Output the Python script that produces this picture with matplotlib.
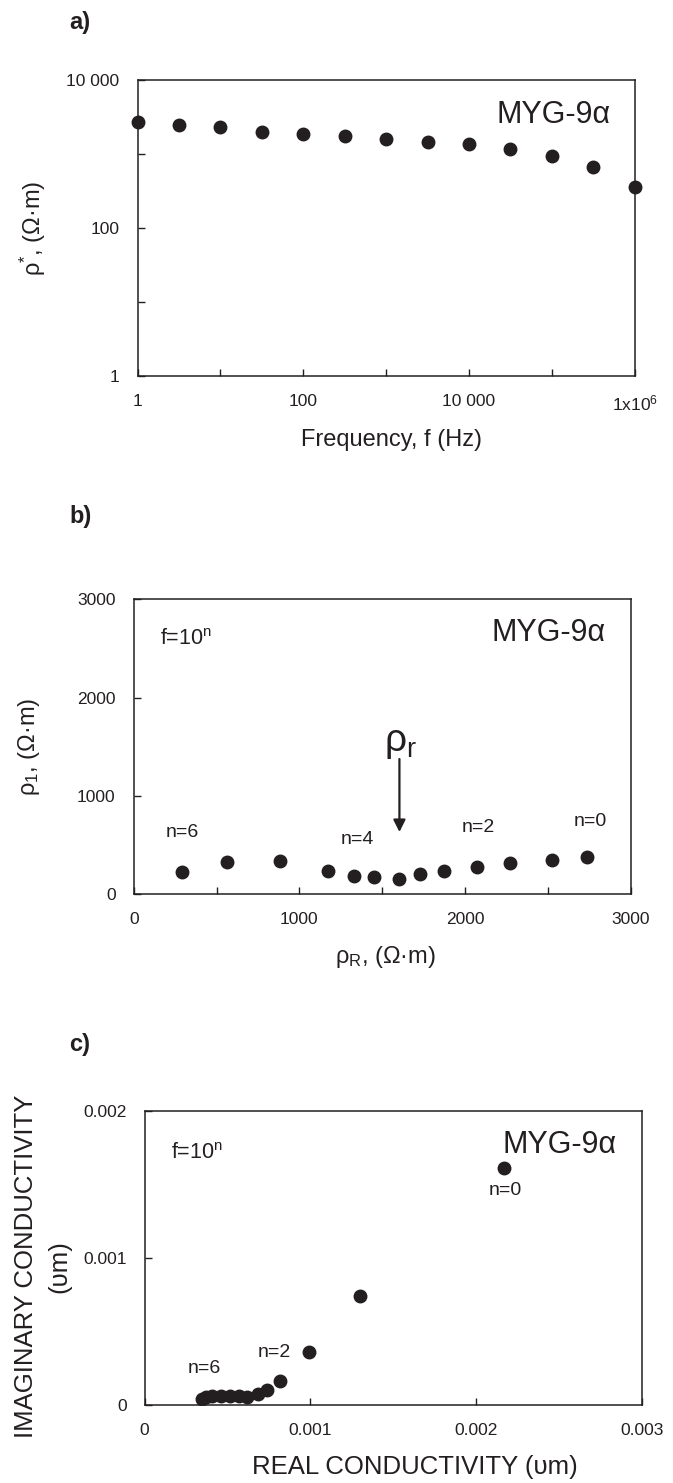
import matplotlib
matplotlib.use("Agg")
import matplotlib.pyplot as plt
from matplotlib.ticker import FixedLocator, NullFormatter

plt.rcParams['font.family'] = ['Liberation Sans', 'DejaVu Sans']
plt.rcParams['mathtext.fontset'] = 'custom'
plt.rcParams['mathtext.rm'] = 'Liberation Sans'
plt.rcParams['mathtext.default'] = 'regular'

INK = '#231f20'

# a) apparent resistivity vs frequency
freq = [1, 3.16, 10, 31.6, 100, 316, 1000, 3162, 1e4, 3.16e4, 1e5, 3.16e5, 1e6]
rho_star = [2716, 2500, 2328, 1968, 1849, 1754, 1600, 1439, 1352, 1169, 939, 667, 361]

# b) rho_R vs rho_I  (n = 6 ... 0)
rho_r = [292, 565, 883, 1171, 1327, 1450, 1602, 1730, 1872, 2074, 2270, 2524, 2737]
rho_i = [219, 325, 333, 234, 187, 178, 153, 204, 231, 277, 319, 343, 374]

# c) real vs imaginary conductivity (n = 0 ... 6)
sig_re = [2.17e-3, 1.30e-3, 0.99e-3, 0.817e-3, 0.738e-3, 0.683e-3, 0.617e-3,
          0.570e-3, 0.515e-3, 0.460e-3, 0.405e-3, 0.372e-3, 0.347e-3]
sig_im = [1.608e-3, 0.743e-3, 0.358e-3, 0.163e-3, 0.100e-3, 0.075e-3, 0.055e-3,
          0.062e-3, 0.064e-3, 0.062e-3, 0.063e-3, 0.054e-3, 0.043e-3]

b_labels = ['n=6', 'n=4', 'n=2', 'n=0']
b_label_pos = [(292, 621), (1353, 550), (2083, 672), (2755, 733)]
c_labels = ['n=0', 'n=2', 'n=6']
c_label_pos = [(2.18e-3, 1.46e-3), (0.784e-3, 0.36e-3), (0.362e-3, 0.245e-3)]

W, H = 673, 1483
fig = plt.figure(figsize=(W / 100, H / 100), dpi=100)


def box(x0, y0, x1, y1):
    return [x0 / W, 1 - y1 / H, (x1 - x0) / W, (y1 - y0) / H]


def style(ax):
    for s in ax.spines.values():
        s.set_linewidth(1.1)
        s.set_color(INK)
    ax.tick_params(which='both', direction='in', length=5, width=1.0,
                   color=INK, labelcolor=INK, labelsize=12.5, pad=13,
                   top=False, right=False)


ax_a = fig.add_axes(box(137.6, 80.3, 634.6, 375.7))
ax_b = fig.add_axes(box(133.7, 599.3, 630.7, 894.0))
ax_c = fig.add_axes(box(144.6, 1110.7, 641.6, 1405.0))

# ---- panel a
ax_a.plot(freq, rho_star, 'o', color=INK, ms=9, clip_on=False, zorder=5)
ax_a.set_xscale('log')
ax_a.set_yscale('log')
ax_a.set_xlim(1, 1e6)
ax_a.set_ylim(1, 1e4)
ax_a.xaxis.set_major_locator(FixedLocator([1, 100, 1e4, 1e6]))
ax_a.xaxis.set_minor_locator(FixedLocator([10, 1e3, 1e5]))
ax_a.xaxis.set_minor_formatter(NullFormatter())
ax_a.set_xticklabels(['1', '100', '10 000', '1x10$^{6}$'])
ax_a.yaxis.set_major_locator(FixedLocator([1, 100, 1e4]))
ax_a.yaxis.set_minor_locator(FixedLocator([10, 1000]))
ax_a.yaxis.set_minor_formatter(NullFormatter())
ax_a.set_yticklabels(['1', '100', '10 000'])
style(ax_a)
ax_a.set_xlabel('Frequency, f (Hz)', fontsize=17, color=INK)
ax_a.set_ylabel('ρ$^{*}$, (Ω·m)', fontsize=17, color=INK)
ax_a.xaxis.set_label_coords(0.51, -0.218)
ax_a.yaxis.set_label_coords(-0.21, 0.5)
ax_a.xaxis.label.set_va('center')
ax_a.yaxis.label.set_va('center')
ax_a.text(0.9525, 0.8825, 'MYG-9α', transform=ax_a.transAxes, ha='right',
          va='center', fontsize=22, color=INK)

# ---- panel b
ax_b.plot(rho_r, rho_i, 'o', color=INK, ms=9, zorder=5)
ax_b.set_xlim(0, 3000)
ax_b.set_ylim(0, 3000)
ax_b.xaxis.set_major_locator(FixedLocator([0, 1000, 2000, 3000]))
ax_b.xaxis.set_minor_locator(FixedLocator([500, 1500, 2500]))
ax_b.yaxis.set_major_locator(FixedLocator([0, 1000, 2000, 3000]))
style(ax_b)
ax_b.set_xlabel('ρ$_{R}$, (Ω·m)', fontsize=17, color=INK)
ax_b.set_ylabel('ρ$_{1}$, (Ω·m)', fontsize=17, color=INK)
ax_b.xaxis.set_label_coords(0.506, -0.214)
ax_b.yaxis.set_label_coords(-0.211, 0.5)
ax_b.xaxis.label.set_va('center')
ax_b.yaxis.label.set_va('center')
ax_b.text(0.95, 0.886, 'MYG-9α', transform=ax_b.transAxes, ha='right',
          va='center', fontsize=22, color=INK)
ax_b.text(0.053, 0.862, 'f=10$^{n}$', transform=ax_b.transAxes, ha='left',
          va='center', fontsize=15.5, color=INK)
for lab, (x, y) in zip(b_labels, b_label_pos):
    ax_b.text(x, y, lab, ha='center', va='center', fontsize=14, color=INK)
ax_b.text(1610, 1537, 'ρ$_{r}$', ha='center', va='center', fontsize=28,
          color=INK)
ax_b.annotate('', xy=(1604, 631), xytext=(1604, 1374),
              arrowprops=dict(arrowstyle='-|>', color=INK, lw=1.6,
                              mutation_scale=18, shrinkA=0, shrinkB=0))

# ---- panel c
ax_c.plot(sig_re, sig_im, 'o', color=INK, ms=9, zorder=5)
ax_c.set_xlim(0, 0.003)
ax_c.set_ylim(0, 0.002)
ax_c.xaxis.set_major_locator(FixedLocator([0, 0.001, 0.002, 0.003]))
ax_c.yaxis.set_major_locator(FixedLocator([0, 0.001, 0.002]))
ax_c.set_xticklabels(['0', '0.001', '0.002', '0.003'])
ax_c.set_yticklabels(['0', '0.001', '0.002'])
style(ax_c)
ax_c.set_xlabel('REAL CONDUCTIVITY (υm)', fontsize=18.5, color=INK)
ax_c.set_ylabel('IMAGINARY CONDUCTIVITY\n(υm)', fontsize=18.5, color=INK,
                linespacing=1.45)
ax_c.xaxis.set_label_coords(0.544, -0.211)
ax_c.yaxis.set_label_coords(-0.205, 0.472)
ax_c.xaxis.label.set_va('center')
ax_c.yaxis.label.set_va('center')
ax_c.text(0.9505, 0.8834, 'MYG-9α', transform=ax_c.transAxes, ha='right',
          va='center', fontsize=22, color=INK)
ax_c.text(0.053, 0.856, 'f=10$^{n}$', transform=ax_c.transAxes, ha='left',
          va='center', fontsize=15.5, color=INK)
for lab, (x, y) in zip(c_labels, c_label_pos):
    ax_c.text(x, y, lab, ha='center', va='center', fontsize=14, color=INK)

# panel letters
for lab, y in [('a)', 22), ('b)', 517), ('c)', 1045)]:
    fig.text(69 / W, 1 - y / H, lab, ha='left', va='center', fontsize=17,
             fontweight='bold', color=INK)

fig.savefig('out.png', dpi=100)
